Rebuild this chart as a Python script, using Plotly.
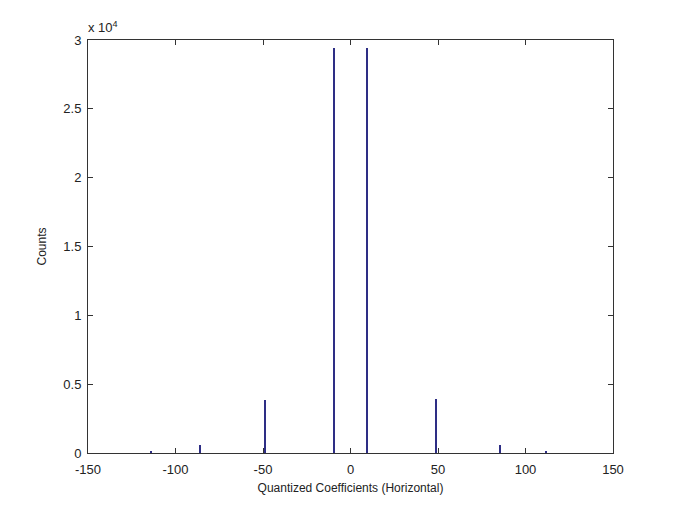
import plotly.graph_objects as go

bin_centers = [-114, -86, -49, -9.6, 9.6, 49, 85.5, 112]
counts = [100, 560, 3850, 29400, 29400, 3900, 560, 100]

x_ticks = [-150, -100, -50, 0, 50, 100, 150]
x_tick_text = ["-150", "-100", "-50", "0", "50", "100", "150"]
y_tick_vals = [0, 5000, 10000, 15000, 20000, 25000, 30000]
y_tick_text = ["0", "0.5", "1", "1.5", "2", "2.5", "3"]

fig = go.Figure()
fig.add_trace(go.Bar(
    x=bin_centers, y=counts, width=0.7,
    marker=dict(color="#2e2e85", line=dict(width=0)),
    showlegend=False,
))

axis_common = dict(
    showline=True, linecolor="#333333", linewidth=1, mirror="ticks",
    ticks="inside", ticklen=5, tickcolor="#333333", showgrid=False, zeroline=False,
    tickfont=dict(family="Liberation Sans, Arial", size=13, color="#222222"),
)

fig.update_layout(
    width=677, height=508,
    margin=dict(l=80, r=72, t=32, b=63, autoexpand=False),
    paper_bgcolor="white", plot_bgcolor="white",
    bargap=0,
    xaxis=dict(range=[-150, 150], tickvals=x_ticks, ticktext=x_tick_text,
               ticklabelstandoff=4,
               title=dict(text="Quantized Coefficients (Horizontal)", standoff=8,
                          font=dict(family="Liberation Sans, Arial", size=12, color="#222222")),
               **axis_common),
    yaxis=dict(range=[0, 30000], tickvals=y_tick_vals, ticktext=y_tick_text,
               ticklabelstandoff=3,
               title=dict(text="Counts", standoff=14,
                          font=dict(family="Liberation Sans, Arial", size=12, color="#222222")),
               **axis_common),
    annotations=[dict(
        text="x 10<sup>4</sup>", xref="paper", yref="paper", x=0, y=1,
        xanchor="left", yanchor="bottom", showarrow=False, xshift=-2, yshift=3,
        font=dict(family="Liberation Sans, Arial", size=13, color="#222222"),
    )],
)

fig.write_html("out.html")
